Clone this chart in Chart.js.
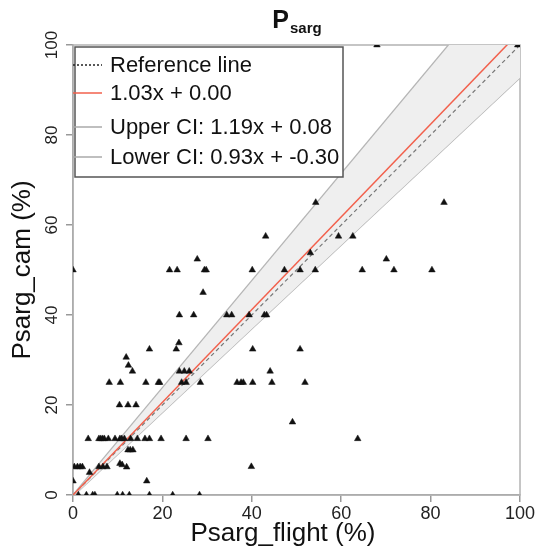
<!DOCTYPE html>
<html>
<head>
<meta charset="utf-8">
<script src="https://cdn.jsdelivr.net/npm/chart.js@4.4.1/dist/chart.umd.min.js"></script>
<style>
  html, body { margin: 0; padding: 0; background: #fff; }
</style>
</head>
<body>
<canvas id="chart" width="538" height="558"></canvas>
<script>
// values (x = flight %, y = cam %)
const flightPct = [
  68, 99.5,
  54.3, 83,
  43.1, 59.4, 62.6,
  53.1,
  27.8, 70.1,
  0, 21.6, 23.3, 29.4, 29.8, 40.1, 47.3, 50.8, 54.2, 64.7, 71.8, 80.3,
  29.1,
  23.8, 27, 34.4, 35.5, 39.4, 42.8, 43.3,
  23.7,
  17.1, 23.1, 40.2, 50.8,
  11.9, 12.4,
  13.3, 23.8, 24.9, 26, 44.1,
  8.1, 10.6, 16.3, 19.1, 19.4, 24.3, 25.3, 28.5, 36.7, 37.6, 38.1, 40.2, 44.5, 51.9,
  10.4, 12.3, 14.1,
  49.1,
  3.4, 5.8, 6.2, 6.6, 7.0, 7.9, 9.4, 10.5, 10.9, 11.5, 12.9, 14.4, 16.1, 17.1, 19.7, 25.3, 30.2, 63.7,
  12.3, 12.8, 13.4,
  10.5, 11, 12,
  0.3, 1, 1.6, 2.1, 5.8, 6.7, 7.6, 39.9,
  3.7,
  0, 16.5,
  1.2, 3, 4.4, 4.9, 9.9, 11.1, 12.6, 17.1, 22.3, 28.3
];
const camPct = [
  100, 100,
  65, 65,
  57.5, 57.5, 57.5,
  53.8,
  52.4, 52.4,
  50, 50, 50, 50, 50, 50, 50, 50, 50, 50, 50, 50,
  45,
  40, 40, 40, 40, 40, 40, 40,
  33.8,
  32.4, 32.4, 32.4, 32.4,
  30.6, 28.8,
  27.5, 27.5, 27.5, 27.5, 27.5,
  25, 25, 25, 25, 25, 25, 25, 25, 25, 25, 25, 25, 25, 25,
  20, 20, 20,
  16.2,
  12.5, 12.5, 12.5, 12.5, 12.5, 12.5, 12.5, 12.5, 12.5, 12.5, 12.5, 12.5, 12.5, 12.5, 12.5, 12.5, 12.5, 12.5,
  10, 10, 10,
  7, 6.7, 6.2,
  6.25, 6.25, 6.25, 6.25, 6.25, 6.25, 6.25, 6.3,
  5,
  3.1, 3.1,
  0, 0, 0, 0, 0, 0, 0, 0, 0, 0
];

const fitSlope = 1.03, fitIntercept = 0.00;
const upperSlope = 1.19, upperIntercept = 0.08;
const lowerSlope = 0.93, lowerIntercept = -0.30;
const axisRange = [0, 100];
const xTicks = [0, 20, 40, 60, 80, 100];
const yTicks = [0, 20, 40, 60, 80, 100];

const FONT = "'Liberation Sans', Arial, Helvetica, sans-serif";
const RED = '#f2604c';
const CI_GREY = '#b5b5b5';

const points = flightPct.map((x, i) => ({ x: x, y: camPct[i] }));
const lineFrom = (m, b) => axisRange.map(x => ({ x: x, y: m * x + b }));
const eqText = (m, b) => m.toFixed(2) + 'x + ' + b.toFixed(2);

const legendItems = [
  { text: 'Reference line', color: '#222', dash: [2, 2] },
  { text: eqText(fitSlope, fitIntercept), color: RED, dash: [] },
  { text: 'Upper CI: ' + eqText(upperSlope, upperIntercept), color: '#aaa', dash: [] },
  { text: 'Lower CI: ' + eqText(lowerSlope, lowerIntercept), color: '#aaa', dash: [] }
];

// frame, title, axis titles and the boxed legend
const decor = {
  id: 'decor',
  beforeDatasetsDraw(chart) {
    const { ctx, chartArea: a } = chart;
    ctx.save();
    ctx.strokeStyle = '#b3b3b3';
    ctx.lineWidth = 1.5;
    ctx.strokeRect(a.left, a.top, a.right - a.left, a.bottom - a.top);
    ctx.restore();
  },
  afterDraw(chart) {
    const { ctx, chartArea: a } = chart;
    ctx.save();
    // title P_sarg
    ctx.fillStyle = '#111';
    ctx.textBaseline = 'alphabetic';
    ctx.font = 'bold 25px ' + FONT;
    const wP = ctx.measureText('P').width;
    ctx.font = 'bold 15px ' + FONT;
    const wS = ctx.measureText('sarg').width;
    const tx = (a.left + a.right) / 2 - (wP + wS) / 2;
    ctx.textAlign = 'left';
    ctx.font = 'bold 25px ' + FONT;
    ctx.fillText('P', tx, 28);
    ctx.font = 'bold 15px ' + FONT;
    ctx.fillText('sarg', tx + wP + 1, 33);

    // axis titles
    ctx.font = '26px ' + FONT;
    ctx.textAlign = 'center';
    ctx.fillText('Psarg_flight (%)', 283, 541);
    ctx.save();
    ctx.translate(30, (a.top + a.bottom) / 2);
    ctx.rotate(-Math.PI / 2);
    ctx.fillText('Psarg_cam (%)', 0, 0);
    ctx.restore();

    // legend box
    const bx = 75, by = 47, bw = 268, bh = 130;
    ctx.fillStyle = '#fff';
    ctx.fillRect(bx, by, bw, bh);
    ctx.strokeStyle = '#555';
    ctx.lineWidth = 1.5;
    ctx.strokeRect(bx, by, bw, bh);
    const rows = [65, 93, 127, 157];
    ctx.font = '22px ' + FONT;
    ctx.textAlign = 'left';
    ctx.textBaseline = 'middle';
    legendItems.forEach((it, i) => {
      ctx.beginPath();
      ctx.setLineDash(it.dash);
      ctx.strokeStyle = it.color;
      ctx.lineWidth = 1.5;
      ctx.moveTo(a.left, rows[i]);
      ctx.lineTo(a.left + 29, rows[i]);
      ctx.stroke();
      ctx.setLineDash([]);
      ctx.fillStyle = '#111';
      ctx.fillText(it.text, 110, rows[i] + 1);
    });
    ctx.restore();
  }
};

const axisStyle = {
  type: 'linear',
  min: axisRange[0],
  max: axisRange[1],
  grid: { display: true, drawOnChartArea: false, drawTicks: true, tickLength: 7, color: '#999', lineWidth: 1.5 },
  border: { display: true, color: '#999', width: 1.5 },
};

new Chart(document.getElementById('chart'), {
  type: 'scatter',
  data: {
    datasets: [
      {
        label: 'points',
        data: points,
        pointStyle: 'triangle',
        pointRadius: 3.8,
        backgroundColor: '#111',
        borderColor: '#111',
        borderWidth: 0.5,
        order: 0
      },
      {
        label: 'fit',
        data: lineFrom(fitSlope, fitIntercept),
        showLine: true,
        borderColor: RED,
        borderWidth: 1.5,
        pointRadius: 0,
        order: 1
      },
      {
        label: 'Reference line',
        data: lineFrom(1, 0),
        showLine: true,
        borderColor: '#777',
        borderWidth: 1.2,
        borderDash: [4, 3],
        pointRadius: 0,
        order: 2
      },
      {
        label: 'Upper CI',
        data: lineFrom(upperSlope, upperIntercept),
        showLine: true,
        borderColor: CI_GREY,
        borderWidth: 1.3,
        backgroundColor: '#efefef',
        fill: { target: 4 },
        pointRadius: 0,
        order: 3
      },
      {
        label: 'Lower CI',
        data: lineFrom(lowerSlope, lowerIntercept),
        showLine: true,
        borderColor: CI_GREY,
        borderWidth: 1.3,
        pointRadius: 0,
        order: 3
      }
    ]
  },
  options: {
    responsive: false,
    devicePixelRatio: 1,
    animation: false,
    layout: { padding: { top: 45, right: 18, left: 0, bottom: 0 } },
    plugins: { legend: { display: false }, tooltip: { enabled: false } },
    scales: {
      x: {
        ...axisStyle,
        afterFit: s => { s.height = 63; },
        afterBuildTicks: s => { s.ticks = xTicks.map(v => ({ value: v })); },
        ticks: { font: { size: 18, family: FONT }, color: '#222', padding: 1, maxRotation: 0 }
      },
      y: {
        ...axisStyle,
        afterFit: s => { s.width = 73; },
        afterBuildTicks: s => { s.ticks = yTicks.map(v => ({ value: v })); },
        ticks: { font: { size: 17, family: FONT }, color: '#222', padding: 0, minRotation: 90, maxRotation: 90, crossAlign: 'center' }
      }
    }
  },
  plugins: [decor]
});
</script>
</body>
</html>
